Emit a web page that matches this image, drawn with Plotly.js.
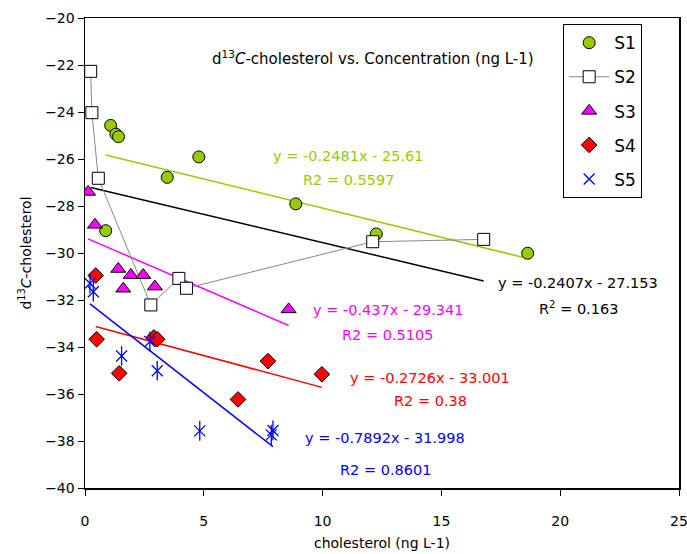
<!DOCTYPE html>
<html><head><meta charset="utf-8">
<script src="https://cdn.plot.ly/plotly-3.0.1.min.js"></script>
<style>html,body{margin:0;padding:0;background:#fff;}#chart{width:687px;height:554px;}</style>
</head><body><div id="chart"></div>
<script>
// Data
const seriesNames = ["S1", "S2", "S3", "S4", "S5"];
const s1x = [0.87, 1.08, 1.30, 1.41, 3.46, 4.79, 8.87, 12.26, 18.63];
const s1y = [-29.05, -24.57, -24.94, -25.05, -26.78, -25.91, -27.91, -29.19, -30.01];
const s2x = [0.24, 0.29, 0.56, 2.77, 3.95, 4.27, 12.11, 16.78];
const s2y = [-22.27, -24.03, -26.82, -32.21, -31.08, -31.50, -29.52, -29.42];
const s3x = [0.13, 0.42, 1.40, 1.93, 2.45, 1.61, 2.94, 8.57];
const s3y = [-27.40, -28.80, -30.68, -30.94, -30.94, -31.52, -31.43, -32.40];
const s4x = [0.45, 0.49, 1.44, 2.90, 3.04, 6.44, 7.70, 9.97];
const s4y = [-30.96, -33.67, -35.12, -33.59, -33.67, -36.23, -34.60, -35.16];
const s5x = [0.21, 0.35, 1.54, 2.73, 3.04, 4.83, 7.84, 7.91];
const s5y = [-31.29, -31.65, -34.38, -33.77, -35.01, -37.57, -37.74, -37.55];

// Linear trendline coefficients (as printed on the chart)
const slopes = [-0.2481, -0.2407, -0.437, -0.2726, -0.7892];
const intercepts = [-25.61, -27.153, -29.341, -33.001, -31.998];
const eqLabels = ["y = -0.2481x - 25.61", "y = -0.2407x - 27.153", "y = -0.437x - 29.341", "y = -0.2726x - 33.001", "y = -0.7892x - 31.998"];
const r2Labels = ["R2 = 0.5597", "R<sup>2</sup> = 0.163", "R2 = 0.5105", "R2 = 0.38", "R2 = 0.8601"];

const xTicks = [0, 5, 10, 15, 20, 25];
const yTicks = [-40, -38, -36, -34, -32, -30, -28, -26, -24, -22, -20];

const colors = ["#99CC00", "#000000", "#FF00FF", "#FF0000", "#0000FF"];
const FONT = "DejaVu Sans, Verdana, sans-serif";

const xs = [s1x, s2x, s3x, s4x, s5x];
const ys = [s1y, s2y, s3y, s4y, s5y];

const traces = [];
// trendlines first (drawn below markers)
for (let i = 0; i < 5; i++) {
  const x0 = Math.min(...xs[i]), x1 = Math.max(...xs[i]);
  traces.push({
    x: [x0, x1], y: [slopes[i] * x0 + intercepts[i], slopes[i] * x1 + intercepts[i]],
    mode: "lines", line: {color: colors[i], width: 1.5}, showlegend: false, hoverinfo: "skip"
  });
}
traces.push({x: s1x, y: s1y, name: "S1", mode: "markers", legendgroup: "g1",
  marker: {symbol: "circle", size: 12, color: "#99CC00", line: {color: "#000", width: 1}}});
traces.push({x: s2x, y: s2y, name: "S2", mode: "lines+markers", legendgroup: "g2",
  line: {color: "#888888", width: 1},
  marker: {symbol: "square", size: 12, color: "#FFFFFF", line: {color: "#000", width: 1}}});
traces.push({x: s3x, y: s3y, name: "S3", mode: "markers", legendgroup: "g3",
  marker: {symbol: "triangle-up", size: 13, color: "#FF00FF", line: {color: "#000", width: 1}}});
traces.push({x: s4x, y: s4y, name: "S4", mode: "markers", legendgroup: "g4",
  marker: {symbol: "diamond", size: 12, color: "#FF0000", line: {color: "#000", width: 1}}});
traces.push({x: s5x, y: s5y, name: "S5", mode: "markers", legendgroup: "g5",
  marker: {symbol: "x-thin-open", size: 11, color: "#0000FF", line: {color: "#0000FF", width: 1.3}}});
traces.push({x: s5x, y: s5y, name: "S5", mode: "markers", legendgroup: "g5", showlegend: false,
  marker: {symbol: "line-ns-open", size: 14, color: "#0000FF", line: {color: "#0000FF", width: 1.3}}});

const eqPos = [[11.07, -25.87, -26.89], [20.75, -31.28, -32.34], [12.75, -32.43, -33.49], [14.52, -35.32, -36.30], [12.63, -37.87, -39.23]];
const annotations = [];
for (let i = 0; i < 5; i++) {
  annotations.push({x: eqPos[i][0], y: eqPos[i][1], xref: "x", yref: "y", text: eqLabels[i], showarrow: false,
    font: {family: FONT, size: 14.5, color: colors[i]}});
  annotations.push({x: eqPos[i][0], y: eqPos[i][2], xref: "x", yref: "y", text: r2Labels[i], showarrow: false,
    font: {family: FONT, size: 14.5, color: colors[i]}});
}
annotations.push({x: 0.485, y: 0.94, xref: "paper", yref: "paper", showarrow: false,
  text: "d<sup>13</sup><i>C</i>-cholesterol vs. Concentration (ng L-1)",
  font: {family: FONT, size: 15, color: "#000"}});

const layout = {
  width: 687, height: 554,
  margin: {l: 85, r: 8, t: 18, b: 66},
  paper_bgcolor: "#fff", plot_bgcolor: "#fff",
  font: {family: FONT, size: 14, color: "#000"},
  xaxis: {range: [0, 25], tickvals: xTicks, ticks: "outside", ticklen: 6, tickcolor: "#000",
    showline: true, mirror: true, linecolor: "#000", linewidth: 1.5, showgrid: false, zeroline: false,
    ticklabelstandoff: 14, ticklabeloverflow: "allow",
    title: {text: "cholesterol (ng L-1)", font: {family: FONT, size: 14}, standoff: 10}},
  yaxis: {range: [-40, -20], tickvals: yTicks, ticks: "outside", ticklen: 6, tickcolor: "#000",
    showline: true, mirror: true, linecolor: "#000", linewidth: 1.5, showgrid: false, zeroline: false,
    title: {text: "d<sup>13</sup><i>C</i>-cholesterol", font: {family: FONT, size: 14}, standoff: 10}},
  legend: {x: 0.805, y: 0.987, xanchor: "left", yanchor: "top", bgcolor: "#fff",
    bordercolor: "#000", borderwidth: 1, font: {family: FONT, size: 17},
    traceorder: "grouped", tracegroupgap: 9, itemwidth: 40},
  annotations: annotations
};
Plotly.newPlot("chart", traces, layout, {displayModeBar: false, staticPlot: true});
</script></body></html>
